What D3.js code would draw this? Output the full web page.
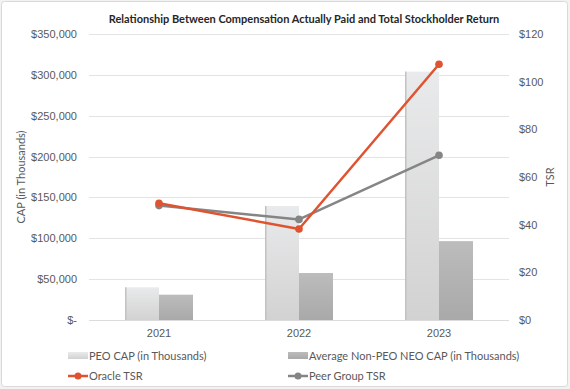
<!DOCTYPE html>
<html>
<head>
<meta charset="utf-8">
<script src="https://cdn.jsdelivr.net/npm/d3@7"></script>
<style>
  body { margin: 0; background: #f2f2f2; }
  svg { display: block; font-family: Lato, "Open Sans", sans-serif; }
</style>
</head>
<body>
<svg id="chart" width="570" height="389"></svg>
<script>
// data
var years = ["2021", "2022", "2023"];
var peoCap = [40000, 139500, 304000];
var nonPeoCap = [31000, 57500, 96500];
var oracleTsr = [49, 38.2, 107.3];
var peerTsr = [48, 42.2, 69.1];
var capTicks = [0, 50000, 100000, 150000, 200000, 250000, 300000, 350000];
var tsrTicks = [0, 20, 40, 60, 80, 100, 120];
var barSeries = ["PEO CAP (in Thousands)", "Average Non-PEO NEO CAP (in Thousands)"];
var lineSeries = ["Oracle TSR", "Peer Group TSR"];

var svg = d3.select("#chart");

// card background
svg.append("rect")
  .attr("x", 1.5).attr("y", 1.5)
  .attr("width", 566).attr("height", 385)
  .attr("rx", 3)
  .attr("fill", "#fff")
  .attr("stroke", "#d9d9d9");

// plot area
var pLeft = 89, pRight = 509, pTop = 34, pBottom = 320;

var x0 = d3.scaleBand().domain(years).range([pLeft, pRight]).padding(0);
var groupW = 68;
var x1 = d3.scaleBand().domain(barSeries).range([0, groupW]).padding(0);
var yCap = d3.scaleLinear().domain([0, 350000]).range([pBottom, pTop]);
var yTsr = d3.scaleLinear().domain([0, 120]).range([pBottom, pTop]);

var defs = svg.append("defs");
var g1 = defs.append("linearGradient").attr("id", "peoGrad").attr("x1", 0).attr("y1", 0).attr("x2", 0).attr("y2", 1);
g1.append("stop").attr("offset", 0).attr("stop-color", "#e9eaeb");
g1.append("stop").attr("offset", 1).attr("stop-color", "#d2d2d2");
var g2 = defs.append("linearGradient").attr("id", "nonGrad").attr("x1", 0).attr("y1", 0).attr("x2", 0).attr("y2", 1);
g2.append("stop").attr("offset", 0).attr("stop-color", "#bcbcbc");
g2.append("stop").attr("offset", 1).attr("stop-color", "#a9a9a9");

// gridlines
svg.append("g")
  .selectAll("line")
  .data(capTicks)
  .enter()
  .append("line")
  .attr("x1", pLeft).attr("x2", pRight)
  .attr("y1", function(d) { return Math.round(yCap(d)) + 0.5; })
  .attr("y2", function(d) { return Math.round(yCap(d)) + 0.5; })
  .attr("stroke", "#e3e3e3")
  .attr("stroke-width", 1.2);

// left axis
var leftAxis = d3.axisLeft(yCap)
  .tickValues(capTicks)
  .tickSize(0)
  .tickPadding(12)
  .tickFormat(function(d) { return d === 0 ? "$-" : "$" + d3.format(",")(d); });
svg.append("g").attr("transform", "translate(" + pLeft + ",0)").call(leftAxis)
  .call(function(g) { g.select(".domain").remove(); })
  .selectAll("text").attr("fill", "#595959").style("font-size", "11px");

// right axis
var rightAxis = d3.axisRight(yTsr)
  .tickValues(tsrTicks)
  .tickSize(0)
  .tickPadding(10)
  .tickFormat(function(d) { return "$" + d; });
svg.append("g").attr("transform", "translate(" + pRight + ",0)").call(rightAxis)
  .call(function(g) { g.select(".domain").remove(); })
  .selectAll("text").attr("fill", "#595959").style("font-size", "11px");

// bottom axis
var bottomAxis = d3.axisBottom(x0).tickSize(0).tickPadding(9);
svg.append("g").attr("transform", "translate(0," + pBottom + ")").call(bottomAxis)
  .call(function(g) { g.select(".domain").remove(); })
  .selectAll("text").attr("fill", "#595959").style("font-size", "11px");

// bars
var rows = years.map(function(y, i) {
  return { year: y, vals: [peoCap[i], nonPeoCap[i]] };
});
var offset = (x0.bandwidth() - groupW) / 2;
var groups = svg.append("g")
  .selectAll("g")
  .data(rows)
  .enter()
  .append("g")
  .attr("transform", function(d) { return "translate(" + (x0(d.year) + offset) + ",0)"; });

groups.selectAll("rect")
  .data(function(d) { return d.vals.map(function(v, k) { return { key: barSeries[k], v: v, k: k }; }); })
  .enter()
  .append("rect")
  .attr("x", function(d) { return x1(d.key); })
  .attr("y", function(d) { return yCap(d.v); })
  .attr("width", x1.bandwidth())
  .attr("height", function(d) { return pBottom - yCap(d.v); })
  .attr("fill", function(d) { return d.k === 0 ? "url(#peoGrad)" : "url(#nonGrad)"; });

// small shadow on the left edge of the PEO bars
groups.append("rect")
  .attr("x", x1(barSeries[0]))
  .attr("y", function(d) { return yCap(d.vals[0]); })
  .attr("width", 1.5)
  .attr("height", function(d) { return pBottom - yCap(d.vals[0]); })
  .attr("fill", "#c2c2c2");

// bottom line
svg.append("line")
  .attr("x1", pLeft).attr("x2", pRight)
  .attr("y1", pBottom + 0.5).attr("y2", pBottom + 0.5)
  .attr("stroke", "#dcdcdc").attr("stroke-width", 1.2);

// lines
var cx = function(i) { return x0(years[i]) + x0.bandwidth() / 2; };
var lineGen = d3.line()
  .x(function(d, i) { return cx(i); })
  .y(function(d) { return yTsr(d); });

var lineData = [
  { name: lineSeries[1], vals: peerTsr, color: "#858585" },
  { name: lineSeries[0], vals: oracleTsr, color: "#df5330" }
];
lineData.forEach(function(s) {
  svg.append("path")
    .attr("d", lineGen(s.vals))
    .attr("fill", "none")
    .attr("stroke", s.color)
    .attr("stroke-width", 2.5)
    .attr("stroke-linejoin", "round");
  svg.selectAll(null)
    .data(s.vals)
    .enter()
    .append("circle")
    .attr("cx", function(d, i) { return cx(i); })
    .attr("cy", function(d) { return yTsr(d); })
    .attr("r", 3.8)
    .attr("fill", s.color);
});

// title
svg.append("text")
  .attr("x", 304).attr("y", 23)
  .attr("text-anchor", "middle")
  .attr("fill", "#262626")
  .style("font-size", "11px")
  .style("font-weight", "bold")
  .text("Relationship Between Compensation Actually Paid and Total Stockholder Return");

// axis titles
svg.append("text")
  .attr("transform", "translate(25,177) rotate(-90)")
  .attr("text-anchor", "middle")
  .attr("fill", "#595959")
  .style("font-size", "11px")
  .text("CAP (in Thousands)");
svg.append("text")
  .attr("transform", "translate(554,177) rotate(-90)")
  .attr("text-anchor", "middle")
  .attr("fill", "#595959")
  .style("font-size", "11px")
  .text("TSR");

// legend
var legend = svg.append("g").style("font-size", "11px").attr("fill", "#595959");
var legX = [68, 288];
var legY = [356, 376];
barSeries.forEach(function(name, k) {
  legend.append("rect")
    .attr("x", legX[k]).attr("y", legY[0] - 4)
    .attr("width", 20).attr("height", 7)
    .attr("fill", k === 0 ? "url(#peoGrad)" : "url(#nonGrad)");
  legend.append("text")
    .attr("x", legX[k] + 21).attr("y", legY[0] + 4)
    .text(name);
});
[lineData[1], lineData[0]].forEach(function(s, k) {
  legend.append("line")
    .attr("x1", legX[k]).attr("x2", legX[k] + 20)
    .attr("y1", legY[1]).attr("y2", legY[1])
    .attr("stroke", s.color).attr("stroke-width", 2.5);
  legend.append("circle")
    .attr("cx", legX[k] + 10).attr("cy", legY[1])
    .attr("r", 3.5).attr("fill", s.color);
  legend.append("text")
    .attr("x", legX[k] + 21).attr("y", legY[1] + 4)
    .text(s.name);
});
</script>
</body>
</html>
